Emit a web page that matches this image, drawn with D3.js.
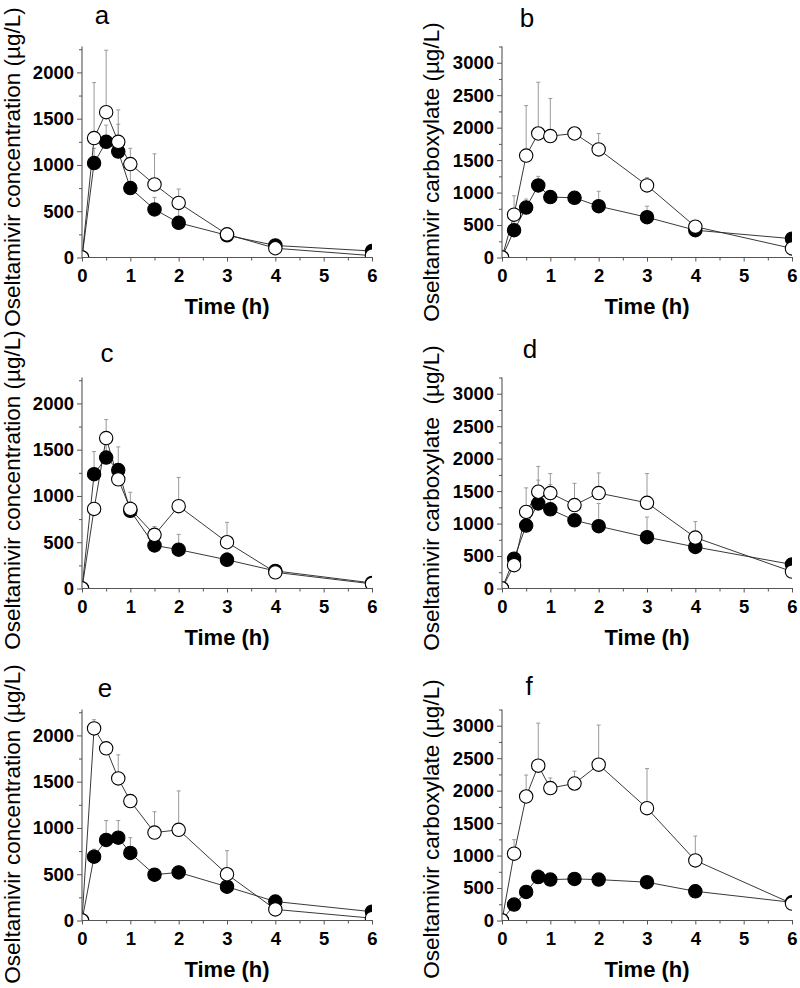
<!DOCTYPE html>
<html><head><meta charset="utf-8">
<script src="https://cdn.jsdelivr.net/npm/d3@7"></script>
<style>body{margin:0;background:#fff}svg{display:block}</style>
</head><body>
<script>
// ---------- data ----------
const times = [0, 0.25, 0.5, 0.75, 1, 1.5, 2, 3, 4, 6];
const xTicks = [0, 1, 2, 3, 4, 5, 6];
const xMinorTicks = [0.5, 1.5, 2.5, 3.5, 4.5, 5.5];
const yTicksConc = [0, 500, 1000, 1500, 2000];
const yMinorConc = [250, 750, 1250, 1750, 2250];
const yTicksCarb = [0, 500, 1000, 1500, 2000, 2500, 3000];
const yMinorCarb = [250, 750, 1250, 1750, 2250, 2750, 3250];
const panelLetters = ["a", "b", "c", "d", "e", "f"];
const xTitle = "Time (h)";
const yTitleConc = "Oseltamivir concentration (µg/L)";
const yTitleCarb = "Oseltamivir carboxylate (µg/L)";
const yTitleCarbD = "Oseltamivir carboxylate\u00a0 (µg/L)";

// panel a – oseltamivir
const aOpen     = [0, 1290, 1570, 1250, 1010, 790, 590, 250, 100, 20];
const aOpenSD   = [0, 600, 670, 345, 170, 330, 150, 0, 0, 0];
const aFilled   = [0, 1020, 1250, 1145, 750, 520, 375, 240, 130, 70];
const aFilledSD = [0, 160, 180, 295, 200, 130, 145, 0, 0, 0];
// panel b – carboxylate
const bOpen     = [0, 660, 1570, 1910, 1870, 1910, 1665, 1110, 475, 140];
const bOpenSD   = [0, 290, 770, 790, 580, 80, 245, 120, 80, 0];
const bFilled   = [0, 420, 770, 1110, 930, 920, 790, 620, 420, 290];
const bFilledSD = [0, 140, 130, 140, 70, 60, 230, 170, 0, 0];
// panel c – oseltamivir
const cOpen     = [0, 860, 1625, 1180, 860, 580, 890, 500, 175, 50];
const cOpenSD   = [0, 0, 200, 0, 180, 90, 310, 215, 0, 0];
const cFilled   = [0, 1235, 1415, 1280, 840, 465, 420, 310, 190, 60];
const cFilledSD = [0, 245, 230, 250, 100, 90, 165, 80, 0, 0];
// panel d – carboxylate
const dOpen     = [0, 360, 1180, 1490, 1470, 1285, 1470, 1320, 785, 260];
const dOpenSD   = [0, 0, 370, 390, 300, 335, 310, 450, 245, 0];
const dFilled   = [0, 460, 970, 1310, 1220, 1050, 960, 790, 640, 370];
const dFilledSD = [0, 0, 130, 360, 380, 0, 350, 310, 0, 0];
// panel e – oseltamivir
const eOpen     = [0, 2075, 1860, 1535, 1290, 950, 980, 500, 120, 25];
const eOpenSD   = [0, 95, 0, 255, 0, 225, 420, 255, 0, 0];
const eFilled   = [0, 690, 870, 895, 730, 495, 520, 365, 205, 95];
const eFilledSD = [0, 80, 210, 185, 165, 0, 70, 0, 0, 0];
// panel f – carboxylate
const fOpen     = [0, 1030, 1910, 2385, 2040, 2110, 2400, 1730, 925, 260];
const fOpenSD   = [0, 215, 330, 655, 155, 190, 610, 610, 375, 0];
const fFilled   = [0, 245, 440, 670, 630, 640, 630, 590, 450, 280];
const fFilledSD = [0, 0, 0, 110, 0, 0, 0, 0, 100, 0];

// ---------- layout ----------
const W = 800, H = 988;
const cols = [{x0: 82, x1: 372, labelX: 20}, {x0: 502, x1: 792, labelX: 439}];
const rowBottoms = [257.5, 588.5, 920.5];
const plotH = 211;
const letterPos = [[102, 24], [527, 27], [107, 362], [530, 358], [105, 697], [529, 695]];
const labelShift = [15, 20, 7, 15, 9, 14];
const FONT = "Arial, 'Liberation Sans', Helvetica, sans-serif";

const panels = [
  {open: aOpen, openSD: aOpenSD, filled: aFilled, filledSD: aFilledSD, kind: "conc", title: yTitleConc},
  {open: bOpen, openSD: bOpenSD, filled: bFilled, filledSD: bFilledSD, kind: "carb", title: yTitleCarb},
  {open: cOpen, openSD: cOpenSD, filled: cFilled, filledSD: cFilledSD, kind: "conc", title: yTitleConc},
  {open: dOpen, openSD: dOpenSD, filled: dFilled, filledSD: dFilledSD, kind: "carb", title: yTitleCarbD},
  {open: eOpen, openSD: eOpenSD, filled: eFilled, filledSD: eFilledSD, kind: "conc", title: yTitleConc},
  {open: fOpen, openSD: fOpenSD, filled: fFilled, filledSD: fFilledSD, kind: "carb", title: yTitleCarb}
];

const svg = d3.select("body").append("svg").attr("width", W).attr("height", H)
  .style("font-family", FONT);

panels.forEach((p, i) => {
  const col = cols[i % 2];
  const yb = rowBottoms[Math.floor(i / 2)];
  const yt = yb - plotH;
  const isConc = p.kind === "conc";
  const x = d3.scaleLinear().domain([0, 6]).range([col.x0, col.x1]);
  const y = d3.scaleLinear().domain([0, isConc ? 2280 : 3250]).range([yb, yt]);
  const g = svg.append("g");

  const clipId = "clip" + i;
  svg.append("clipPath").attr("id", clipId).append("rect")
    .attr("x", col.x0).attr("y", yt - 10).attr("width", col.x1 - col.x0).attr("height", yb - yt + 10);
  const pg = g.append("g").attr("clip-path", `url(#${clipId})`);

  const series = [
    {vals: p.filled, sd: p.filledSD, fill: "#000"},
    {vals: p.open, sd: p.openSD, fill: "#fff"}
  ];
  const pts = s => times.map((t, k) => ({t, v: s.vals[k], sd: s.sd[k]}));

  // error bars (upper only)
  series.forEach(s => {
    const eb = pg.append("g").attr("stroke", "#9a9a9a").attr("stroke-width", 1);
    pts(s).filter(d => d.sd > 0).forEach(d => {
      eb.append("line").attr("x1", x(d.t)).attr("x2", x(d.t)).attr("y1", y(d.v)).attr("y2", y(d.v + d.sd));
      eb.append("line").attr("x1", x(d.t) - 2).attr("x2", x(d.t) + 2).attr("y1", y(d.v + d.sd)).attr("y2", y(d.v + d.sd));
    });
  });
  // lines
  const line = d3.line().x(d => x(d.t)).y(d => y(d.v));
  series.forEach(s => {
    pg.append("path").datum(pts(s)).attr("d", line)
      .attr("fill", "none").attr("stroke", "#222").attr("stroke-width", 0.9);
  });
  // markers
  series.forEach(s => {
    pg.append("g").selectAll("circle").data(pts(s)).join("circle")
      .attr("cx", d => x(d.t)).attr("cy", d => y(d.v)).attr("r", 6.7)
      .attr("fill", s.fill).attr("stroke", "#000").attr("stroke-width", 1.1);
  });

  // axes
  const axColor = "#555";
  const xAx = g.append("g").attr("transform", `translate(0,${yb})`)
    .call(d3.axisBottom(x).tickValues(xTicks).tickSize(4).tickPadding(7).tickFormat(d3.format("d")));
  const xMin = g.append("g").attr("transform", `translate(0,${yb})`)
    .call(d3.axisBottom(x).tickValues(xMinorTicks).tickSize(3).tickFormat(""));
  const yAx = g.append("g").attr("transform", `translate(${col.x0},0)`)
    .call(d3.axisLeft(y).tickValues(isConc ? yTicksConc : yTicksCarb).tickSize(5).tickPadding(3).tickFormat(d3.format("d")));
  const yMin = g.append("g").attr("transform", `translate(${col.x0},0)`)
    .call(d3.axisLeft(y).tickValues(isConc ? yMinorConc : yMinorCarb).tickSize(3).tickFormat(""));
  [xAx, xMin, yAx, yMin].forEach(a => {
    a.select(".domain").attr("stroke", axColor).attr("stroke-width", 1.1);
    a.selectAll(".tick line").attr("stroke", axColor);
    a.selectAll("text").attr("font-family", FONT).attr("font-size", 18.5).attr("font-weight", "bold").attr("fill", "#000");
  });
  xMin.select(".domain").remove();
  yMin.select(".domain").remove();
  xAx.select(".domain").attr("d", `M${col.x0},0H${col.x1 + 1}`);
  yAx.select(".domain").attr("d", `M0,${yt}V${yb}`);
  xAx.selectAll(".tick text").attr("dy", "0.72em");

  // titles
  g.append("text").attr("x", (col.x0 + col.x1) / 2).attr("y", yb + 56)
    .attr("text-anchor", "middle").attr("font-size", 22).attr("font-weight", "bold").text(xTitle);
  const cy = (yt + yb) / 2 + labelShift[i];
  g.append("text").attr("transform", `translate(${col.labelX},${cy}) rotate(-90)`)
    .attr("text-anchor", "middle").attr("font-size", 22.5).style("white-space", "pre").text(p.title);
  g.append("text").attr("x", letterPos[i][0]).attr("y", letterPos[i][1])
    .attr("text-anchor", "middle").attr("font-size", 26).text(panelLetters[i]);
});
</script>
</body></html>
